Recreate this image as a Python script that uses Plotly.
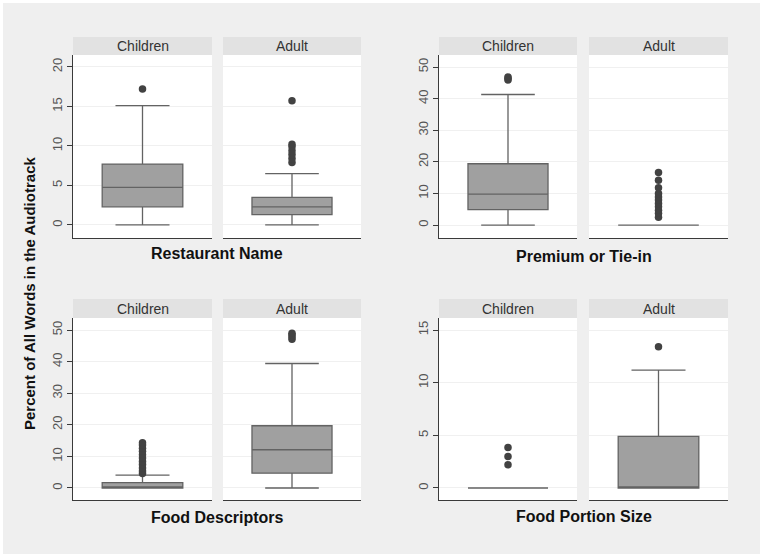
import plotly.graph_objects as go

# ---------------- data ----------------
panel_titles = ["Restaurant Name", "Premium or Tie-in", "Food Descriptors", "Food Portion Size"]
groups = ["Children", "Adult"]
y_title = "Percent of All Words in the Audiotrack"

# stats: [lower whisker, q1, median, q3, upper whisker]
rest_children_stats = [0, 2.3, 4.75, 7.7, 15.1]
rest_children_outliers = [17.2]
rest_adult_stats = [0, 1.3, 2.3, 3.5, 6.5]
rest_adult_outliers = [7.9, 8.4, 8.9, 9.4, 9.9, 10.2, 15.7]

prem_children_stats = [0, 4.9, 9.8, 19.4, 41.3]
prem_children_outliers = [45.9, 46.4, 46.8]
prem_adult_stats = [0, 0, 0, 0, 0]
prem_adult_outliers = [2.5, 3.7, 4.7, 5.8, 6.8, 7.9, 8.9, 10.0, 11.8, 14.2, 16.6]

desc_children_stats = [0, 0, 0, 1.7, 4.1]
desc_children_outliers = [4.6, 5.4, 6.3, 7.4, 8.4, 9.5, 10.5, 11.6, 12.6, 13.6, 14.3]
desc_adult_stats = [0, 4.7, 12.1, 19.7, 39.4]
desc_adult_outliers = [47.1, 47.8, 48.5, 49.0]

size_children_stats = [0, 0, 0, 0, 0]
size_children_outliers = [2.2, 3.0, 3.85]
size_adult_stats = [0, 0, 0, 4.9, 11.2]
size_adult_outliers = [13.4]

tick_rest = [0, 5, 10, 15, 20]
tick_prem = [0, 10, 20, 30, 40, 50]
tick_desc = [0, 10, 20, 30, 40, 50]
tick_size = [0, 5, 10, 15]

# ---------------- layout geometry (pixels) ----------------
W, H = 764, 558
FONT = "Liberation Sans, Arial, sans-serif"

def px_x(v):
    return v / W

def px_y(v):
    return 1 - v / H

panels = [
    dict(title=panel_titles[0], data=[(rest_children_stats, rest_children_outliers), (rest_adult_stats, rest_adult_outliers)],
         ticks=tick_rest, yr=[-1.65, 21.5], xs=[(73, 212), (223, 361)], yp=(55, 238), st=37, ty=254),
    dict(title=panel_titles[1], data=[(prem_children_stats, prem_children_outliers), (prem_adult_stats, prem_adult_outliers)],
         ticks=tick_prem, yr=[-4.1, 53.8], xs=[(439, 577), (589, 728)], yp=(55, 238), st=37, ty=256),
    dict(title=panel_titles[2], data=[(desc_children_stats, desc_children_outliers), (desc_adult_stats, desc_adult_outliers)],
         ticks=tick_desc, yr=[-3.8, 53.8], xs=[(73, 212), (223, 361)], yp=(318, 500), st=299, ty=517),
    dict(title=panel_titles[3], data=[(size_children_stats, size_children_outliers), (size_adult_stats, size_adult_outliers)],
         ticks=tick_size, yr=[-1.14, 16.14], xs=[(439, 577), (589, 728)], yp=(318, 500), st=299, ty=516),
]

fig = go.Figure()
shapes = []
annotations = []
layout_axes = {}

# outer gray background
shapes.append(dict(type="rect", xref="paper", yref="paper", x0=px_x(3), x1=px_x(760), y0=px_y(554), y1=px_y(3),
                   fillcolor="#efefef", line=dict(width=0), layer="below"))

idx = 0
for p in panels:
    for gi, (stats, outl) in enumerate(p["data"]):
        idx += 1
        xa = "x" if idx == 1 else f"x{idx}"
        ya = "y" if idx == 1 else f"y{idx}"
        xkey = "xaxis" if idx == 1 else f"xaxis{idx}"
        ykey = "yaxis" if idx == 1 else f"yaxis{idx}"
        x0, x1 = p["xs"][gi]
        top, bot = p["yp"]
        fig.add_trace(go.Box(
            x=[0], q1=[stats[1]], median=[stats[2]], q3=[stats[3]],
            lowerfence=[stats[0]], upperfence=[stats[4]],
            width=0.58, whiskerwidth=0.67, boxpoints=False,
            fillcolor="#a0a0a0", line=dict(color="#636363", width=1.3),
            xaxis=xa, yaxis=ya, showlegend=False, hoverinfo="skip"))
        fig.add_trace(go.Scatter(
            x=[0] * len(outl), y=outl, mode="markers",
            marker=dict(color="#424242", size=7.5, line=dict(width=0)),
            xaxis=xa, yaxis=ya, showlegend=False, hoverinfo="skip"))
        layout_axes[xkey] = dict(domain=[px_x(x0), px_x(x1)], range=[-0.5, 0.5], anchor=ya,
                                 showgrid=False, zeroline=False, showticklabels=False, ticks="",
                                 showline=True, linecolor="#3a3a3a", linewidth=1.3, fixedrange=True)
        layout_axes[ykey] = dict(domain=[px_y(bot), px_y(top)], range=p["yr"], anchor=xa,
                                 tickvals=p["ticks"], showgrid=True, gridcolor="#f0f0f0", gridwidth=1,
                                 zeroline=False, fixedrange=True)
        if gi == 0:
            layout_axes[ykey].update(showline=True, linecolor="#3a3a3a", linewidth=1.3,
                                     ticks="outside", ticklen=5, tickcolor="#3a3a3a", tickwidth=1,
                                     tickangle=-90, tickfont=dict(family=FONT, size=13, color="#555555"),
                                     showticklabels=True)
        else:
            layout_axes[ykey].update(showline=False, showticklabels=False, ticks="")
        shapes.append(dict(type="rect", xref="paper", yref="paper", x0=px_x(x0), x1=px_x(x1),
                           y0=px_y(bot), y1=px_y(top), fillcolor="white", line=dict(width=0), layer="below"))
        shapes.append(dict(type="rect", xref="paper", yref="paper", x0=px_x(x0), x1=px_x(x1),
                           y0=px_y(top), y1=px_y(p["st"]), fillcolor="#e2e2e2", line=dict(width=0)))
        annotations.append(dict(text=groups[gi], xref="paper", yref="paper", x=px_x((x0 + x1) / 2),
                                y=px_y((top + p["st"]) / 2), showarrow=False, xanchor="center", yanchor="middle",
                                font=dict(family=FONT, size=14, color="#333333")))
    cx = (p["xs"][0][0] + p["xs"][1][1]) / 2
    annotations.append(dict(text=f"<b>{p['title']}</b>", xref="paper", yref="paper", x=px_x(cx), y=px_y(p["ty"]),
                            showarrow=False, xanchor="center", yanchor="middle",
                            font=dict(family=FONT, size=16, color="#111111")))

annotations.append(dict(text=f"<b>{y_title}</b>", xref="paper", yref="paper", x=px_x(29), y=px_y(294),
                        showarrow=False, textangle=-90, xanchor="center", yanchor="middle",
                        font=dict(family=FONT, size=15, color="#111111")))

fig.update_layout(width=W, height=H, margin=dict(l=0, r=0, t=0, b=0),
                  paper_bgcolor="white", plot_bgcolor="rgba(0,0,0,0)",
                  shapes=shapes, annotations=annotations, showlegend=False, **layout_axes)

fig.write_html("out.html", config={"displayModeBar": False, "staticPlot": True},
               post_script="document.body.style.margin='0';document.body.style.padding='0';document.body.style.overflow='hidden';")
